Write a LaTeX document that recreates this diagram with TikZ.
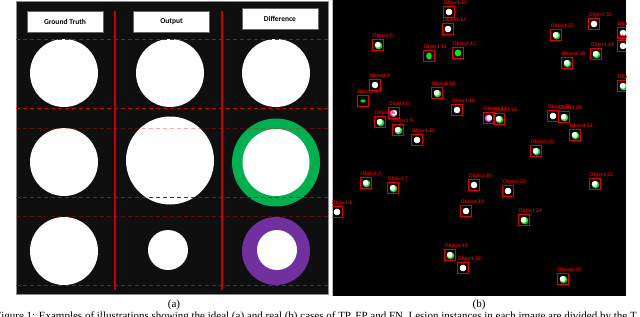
\documentclass[tikz,border=0pt]{standalone}
\usepackage{fontspec}
\setmainfont{Liberation Serif}
\newfontfamily\hdrfont{Carlito}
\newfontfamily\lblfont{Liberation Sans}
\definecolor{ringgreen}{RGB}{0,176,80}
\definecolor{ringpurple}{RGB}{112,48,160}
\definecolor{dotgreen}{RGB}{20,225,20}
\definecolor{dotmag}{RGB}{235,80,235}
\definecolor{linered}{RGB}{200,0,0}
\begin{document}
\begin{tikzpicture}[x=1pt,y=-1pt,
  hdr/.style={draw=black!60,fill=white,line width=0.5pt,minimum width=76pt,minimum height=21pt,font=\hdrfont\bfseries\fontsize{7.5}{8}\selectfont,inner sep=0},
  vline/.style={draw=linered,line width=1.6pt},
  dline/.style={draw=linered,line width=0.9pt,dash pattern=on 4pt off 3pt},
  dimline/.style={draw=red,draw opacity=0.35,line width=0.9pt,dash pattern=on 4pt off 3pt},
  disc/.style={circle,fill=white,inner sep=0,draw=none},
  objbox/.style={draw=red!90!black,line width=1pt,minimum size=11pt,inner sep=0},
  objlbl/.style={text=red!85!black,font=\lblfont\bfseries\fontsize{5.2}{5.2}\selectfont,inner sep=0.3pt,anchor=south west},
  captxt/.style={font=\fontsize{11}{12}\selectfont,inner sep=0}
]
\useasboundingbox (0,0) rectangle (640,316);
\fill[white] (0,0) rectangle (640,316);

% ---------- left panel (a)
\fill[black!94,draw=black!45,line width=0.6pt] (16,1) rectangle (328,294);
\node[hdr] (hgt) at (65,21.5) {Ground Truth};
\node[hdr] (hout) at (171.5,21.5) {Output};
\node[hdr] (hdif) at (280,19) {Difference};

% row 1
\node[disc,minimum size=68pt] (gt1) at (64,73) {};
\node[disc,minimum size=68pt] (out1) at (170,73) {};
\node[disc,minimum size=68pt] (dif1) at (276,73) {};
% row 2
\node[disc,minimum size=68pt] (gt2) at (64,162) {};
\node[disc,minimum size=88pt] (out2) at (170,160.5) {};
\node[circle,fill=ringgreen,inner sep=0,minimum size=88pt] (dif2o) at (276,162.5) {};
\node[disc,minimum size=67pt] (dif2) at (276,162.5) {};
% row 3
\node[disc,minimum size=68pt] (gt3) at (64,251) {};
\node[disc,minimum size=40pt] (out3) at (168,250) {};
\node[circle,fill=ringpurple,inner sep=0,minimum size=68pt] (dif3o) at (276,251) {};
\node[disc,minimum size=40pt] (dif3) at (277,250) {};

% separators
\coordinate (vl1t) at (115,11); \coordinate (vl1b) at (115,290);
\coordinate (vl2t) at (222,11); \coordinate (vl2b) at (222,290);
\draw[vline] (vl1t) -- (vl1b);
\draw[vline] (vl2t) -- (vl2b);
\foreach \yy in {39,108,197,285} {
  \coordinate (dl\yy a) at (16,\yy); \coordinate (dl\yy b) at (328,\yy);
  \draw[dline] (dl\yy a) -- (dl\yy b);
}
\foreach \yy in {128,216} {
  \coordinate (dl\yy a) at (16,\yy); \coordinate (dl\yy b) at (328,\yy);
  \draw[dimline] (dl\yy a) -- (dl\yy b);
}

% ---------- right panel (b)
\fill[black] (332,0) rectangle (626,296);
\draw[black!25,line width=0.7pt] (332,0) -- (332,296);
\begin{scope}
\clip (332.4,0) rectangle (626,296);
% plain white objects
\foreach \n/\x/\y in {14/449/12,13/448/29,4/375/85,16/457/110,10/417/140,32/594/24,26/553/116,23/508/191,20/474/185,19/466/211,18/463/268,1/337/212,35/623/33,36/623/46} {
  \node[objbox] (o\n) at (\x,\y) {};
  \fill[white] (o\n) circle (3.3);
}
% white with green rim
\foreach \n/\x/\y in {5/378/45,12/437/93,6/380/122,9/398/130,27/556/35,30/567/63,34/596/54,22/499/119,28/564/117,31/575/135,25/536/151,33/595/184,24/524/220,29/563/279,3/366/183,7/393/188,15/450/255,37/623/86} {
  \node[objbox] (o\n) at (\x,\y) {};
  \fill[dotgreen] ([shift={(0.5,0.6)}]o\n.center) circle (3.8);
  \fill[white] ([shift={(-0.3,-0.2)}]o\n.center) circle (2.9);
}
% green blobs
\foreach \n/\x/\y in {11/429/56,17/458/53,2/363/101} {
  \node[objbox] (o\n) at (\x,\y) {};
}
\fill[dotgreen] (o11) ellipse (2.8 and 3.4);
\fill[dotgreen] (o17) circle (3.4);
\fill[dotgreen] (o2) ellipse (2.6 and 1.6);
% white with magenta rim
\foreach \n/\x/\y in {8/394/113,21/489/118} {
  \node[objbox] (o\n) at (\x,\y) {};
  \fill[dotmag] ([shift={(-0.6,0.3)}]o\n.center) circle (3.7);
  \fill[white] ([shift={(0.3,-0.2)}]o\n.center) circle (2.8);
}
% labels
\foreach \n in {1,...,37} {
  \node[objlbl] (l\n) at (o\n.north west) {Object \n};
}
\end{scope}

% ---------- captions
\node[captxt] (capa) at (174,305) {(a)};
\node[captxt] (capb) at (479,305) {(b)};
\node[captxt,anchor=west] (capline) at (-5,317) {Figure 1: Examples of illustrations showing the ideal (a) and real (b) cases of TP, FP and FN. Lesion instances in each image are divided by the T};
\end{tikzpicture}
\end{document}
